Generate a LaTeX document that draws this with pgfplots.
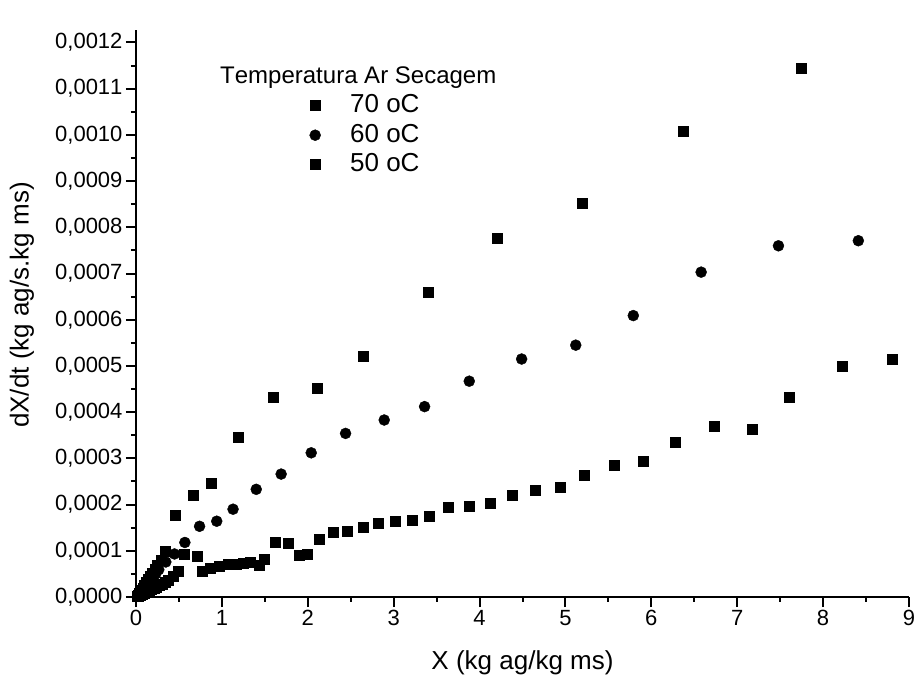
\documentclass[border=0pt]{standalone}
\usepackage{fontspec}
\setmainfont{Liberation Sans}[Kerning=Off]
\usepackage{pgfplots}
\pgfplotsset{compat=1.18}

\begin{document}
\begin{tikzpicture}
\path[use as bounding box] (-136pt,-85pt) rectangle (780pt,597pt);
\begin{axis}[
    at={(0pt,0pt)}, anchor=south west,
    scale only axis,
    width=773pt, height=567pt,
    xmin=0, xmax=9, ymin=0, ymax=0.001227,
    axis lines=left,
    axis line style={-, line width=2pt},
    tick style={black, line width=2pt},
    major tick style={black, line width=2pt},
    minor tick style={black, line width=2pt},
    tick align=outside,
    major tick length=10pt, minor tick length=5pt,
    xtick={0,1,2,3,4,5,6,7,8,9},
    ytick={0,0.0001,0.0002,0.0003,0.0004,0.0005,0.0006,0.0007,0.0008,0.0009,0.0010,0.0011,0.0012},
    minor x tick num=1, minor y tick num=1,
    scaled y ticks=false,
    xticklabel style={/pgf/number format/assume math mode=true},
    yticklabel style={/pgf/number format/.cd, fixed, fixed zerofill, precision=4, use comma, assume math mode=true},
    tick label style={font=\fontsize{22}{26}\selectfont},
    label style={font=\fontsize{26}{30}\selectfont},
    xlabel={X (kg ag/kg ms)},
    ylabel={dX/dt (kg ag/s.kg ms)},
    xlabel style={at={(axis description cs:0.5,-0.116)}, anchor=center},
    ylabel style={at={(axis description cs:-0.1475,0.515)}, anchor=center},
    legend style={draw=none, fill=none, at={(axis description cs:0.2186,0.888)}, anchor=north west,
        inner sep=0pt, row sep=5.5pt, font=\fontsize{26}{26}\selectfont,
        nodes={inner sep=0pt, text height=19pt, text depth=5pt}},
    legend cell align=left,
    legend image code/.code={%
        \path[draw=none, fill=none] (0pt,-5pt) rectangle (45pt,5pt);
        \draw[#1] plot coordinates {(10pt,0pt)};},
]
% 70 oC
\addplot[only marks, mark=square*, mark size=5pt, black] coordinates {
(0.02,0.000004)(0.04,0.000009)(0.06,0.000014)(0.08,0.00002)(0.10,0.000026)
(0.12,0.000032)(0.14,0.000038)(0.16,0.000044)(0.19,0.000051)(0.22,0.00006)
(0.25,0.000069)(0.29,0.00008)(0.335,0.0000988)(0.456,0.000177)(0.666,0.00022)
(0.873,0.000246)(1.188,0.000346)(1.597,0.000432)(2.104,0.000451)(2.649,0.000521)
(3.40,0.000659)(4.21,0.000777)(5.19,0.000853)(6.37,0.001009)(7.74,0.001144)
};
\addlegendentry{70 oC}
% 60 oC
\addplot[only marks, mark=*, mark size=5.5pt, black] coordinates {
(0.02,0.000003)(0.04,0.000007)(0.06,0.000011)(0.08,0.000015)(0.10,0.000019)
(0.12,0.000023)(0.145,0.000029)(0.17,0.000035)(0.20,0.000042)(0.23,0.00005)
(0.265,0.0000592)(0.347,0.0000758)(0.448,0.0000931)(0.569,0.000118)(0.74,0.000153)
(0.94,0.000164)(1.13,0.00019)(1.40,0.000233)(1.69,0.000266)(2.04,0.000312)
(2.44,0.000354)(2.89,0.000383)(3.36,0.000412)(3.88,0.000467)(4.49,0.000515)
(5.12,0.000545)(5.79,0.000609)(6.58,0.000703)(7.48,0.00076)(8.41,0.000771)
};
\addlegendentry{60 oC}
% 50 oC
\addplot[only marks, mark=square*, mark size=5pt, black] coordinates {
(0.015,0.000001)(0.03,0.000002)(0.05,0.000004)(0.07,0.000006)(0.09,0.000008)
(0.11,0.00001)(0.13,0.000012)(0.155,0.000014)(0.18,0.000016)(0.21,0.000019)
(0.24,0.000022)(0.27,0.000025)(0.30,0.000028)(0.34,0.000032)(0.38,0.000037)
(0.43,0.000045)(0.495,0.0000556)(0.557,0.0000931)(0.709,0.0000873)(0.771,0.0000548)
(0.869,0.0000613)(0.974,0.0000671)(1.07,0.0000707)(1.17,0.0000714)(1.25,0.0000722)
(1.33,0.000075)(1.43,0.0000678)(1.49,0.0000815)(1.62,0.000119)(1.77,0.000117)
(1.90,0.0000902)(1.99,0.0000931)(2.13,0.000126)(2.30,0.00014)(2.46,0.000142)
(2.64,0.000151)(2.82,0.000159)(3.02,0.000163)(3.21,0.000166)(3.41,0.000175)
(3.64,0.000194)(3.88,0.000197)(4.12,0.000203)(4.38,0.000221)(4.65,0.000232)
(4.94,0.000237)(5.22,0.000263)(5.57,0.000285)(5.91,0.000294)(6.28,0.000335)
(6.73,0.000370)(7.18,0.000364)(7.60,0.000433)(8.22,0.000499)(8.80,0.000515)
};
\addlegendentry{50 oC}
\node[anchor=base west, inner sep=0pt, font=\fontsize{24}{28}\selectfont] at (axis description cs:0.1087,0.9065) {Temperatura Ar Secagem};
\end{axis}
\end{tikzpicture}
\end{document}
